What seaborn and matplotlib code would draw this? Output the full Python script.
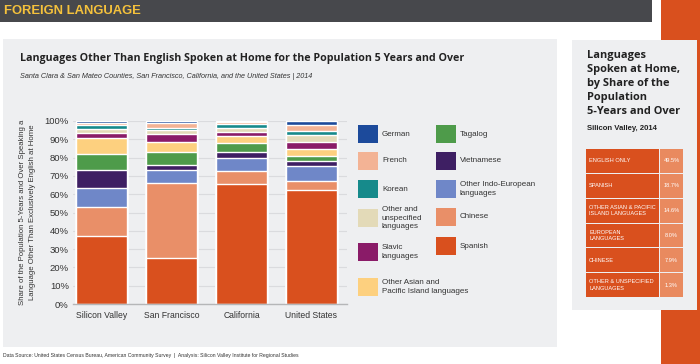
import numpy as np
import pandas as pd
import seaborn as sns
import matplotlib.pyplot as plt
from matplotlib.patches import Rectangle

# data (share of non-English speakers, %)
regions = ['Silicon Valley', 'San Francisco', 'California', 'United States']
languages = ['Spanish', 'Chinese', 'Other Indo-European languages', 'Vietnamese', 'Tagalog',
             'Other Asian and Pacific Island languages', 'Slavic languages',
             'Other and unspecified languages', 'Korean', 'French', 'German']
spanish = [37.2, 25.1, 65.6, 62.3]
chinese = [15.8, 41.2, 7.1, 5.1]
other_indo_european = [10.6, 6.7, 6.9, 8.2]
vietnamese = [9.6, 3.1, 3.6, 2.5]
tagalog = [8.9, 6.8, 4.8, 2.6]
other_asian = [8.4, 5.8, 4.0, 4.2]
slavic = [2.8, 4.0, 2.0, 3.4]
other_unspecified = [2.5, 2.2, 2.0, 3.9]
korean = [2.2, 1.5, 2.4, 2.5]
french = [0.9, 2.3, 0.9, 2.9]
german = [1.1, 1.3, 0.7, 2.4]
yticks = [0, 10, 20, 30, 40, 50, 60, 70, 80, 90, 100]

colors = ['#d9501e', '#e98f68', '#6f87c8', '#3e1f63', '#4e9b4a', '#fdd07f',
          '#8a1b68', '#e3dab8', '#168a8b', '#f3b395', '#1c4a9b']

# legend layout: (label, column, y centre in px)
legend_items = [
    ('German', 0, 134), ('French', 0, 161), ('Korean', 0, 189),
    ('Other and\nunspecified\nlanguages', 0, 218), ('Slavic\nlanguages', 0, 252),
    ('Other Asian and\nPacific Island languages', 0, 287),
    ('Tagalog', 1, 134), ('Vietnamese', 1, 161), ('Other Indo-European\nlanguages', 1, 189),
    ('Chinese', 1, 217), ('Spanish', 1, 246),
]
legend_colors = ['#1c4a9b', '#f3b395', '#168a8b', '#e3dab8', '#8a1b68', '#fdd07f',
                 '#4e9b4a', '#3e1f63', '#6f87c8', '#e98f68', '#d9501e']

table_labels = ['ENGLISH ONLY', 'SPANISH', 'OTHER ASIAN & PACIFIC\nISLAND LANGUAGES',
                'EUROPEAN\nLANGUAGES', 'CHINESE', 'OTHER & UNSPECIFIED\nLANGUAGES']
table_values = ['49.5%', '18.7%', '14.6%', '8.0%', '7.9%', '1.3%']

series = [spanish, chinese, other_indo_european, vietnamese, tagalog, other_asian,
          slavic, other_unspecified, korean, french, german]
df = pd.DataFrame(np.array(series).T, index=regions, columns=languages)
cum = df.cumsum(axis=1)

sns.set_style('white')
plt.rcParams['font.family'] = ['Liberation Sans', 'DejaVu Sans']
bold_sans = ['Open Sans', 'DejaVu Sans']

W, H = 700, 364
def fx(x):
    return x / W
def fy(y):
    return 1 - y / H

fig = plt.figure(figsize=(7, 3.64), dpi=100)
fig.patch.set_facecolor('white')

def box(x0, y0, x1, y1, color, z=-5):
    fig.add_artist(Rectangle((fx(x0), fy(y1)), (x1 - x0) / W, (y1 - y0) / H,
                             transform=fig.transFigure, color=color, zorder=z, lw=0))

box(0, 0, 652, 22, '#47484c')
box(661, 0, 700, 364, '#d9501e', -6)
box(3, 39, 557, 347, '#eeeff1')
box(572, 40, 697, 310, '#eeeff1')

fig.text(fx(4), fy(11.5), 'FOREIGN LANGUAGE', color='#f4c13c', fontsize=9.4,
         fontweight='bold', va='center', ha='left')

ax = fig.add_axes([fx(73), fy(304), (347 - 73) / W, (304 - 121) / H])
ax.set_facecolor('none')
for i in range(len(languages) - 1, -1, -1):
    sns.barplot(x=cum.index, y=cum[languages[i]], color=colors[i], saturation=1,
                width=0.73, ax=ax, zorder=2)
ax.set_xlim(-0.41, 3.51)
ax.set_ylim(0, 100)
ax.set_yticks(yticks)
ax.set_yticklabels([f'{t}%' for t in yticks])
ax.yaxis.grid(True, color='#dadbde', lw=0.8, zorder=0)
ax.set_axisbelow(True)
for s in ['top', 'right', 'left']:
    ax.spines[s].set_visible(False)
ax.spines['bottom'].set_color('#b5b6b8')
ax.spines['bottom'].set_linewidth(1.0)
ax.tick_params(axis='y', length=0, labelsize=6.8, colors='#333333', pad=3)
ax.tick_params(axis='x', length=0, labelsize=6.2, colors='#333333', pad=5)
ax.set_xlabel('')
ax.set_ylabel('Share of the Population 5-Years and Over Speaking a\n'
              'Language Other Than Exclusively English at Home',
              fontsize=5.6, color='#333333', labelpad=6, linespacing=1.6)

fig.text(fx(20), fy(58), 'Languages Other Than English Spoken at Home for the Population 5 Years and Over',
         family=bold_sans, fontweight='bold', fontsize=7.7, color='#222222', va='center')
fig.text(fx(20), fy(77), 'Santa Clara & San Mateo Counties, San Francisco, California, and the United States | 2014',
         fontsize=5.2, style='italic', color='#333333', va='center')

# legend
for (lab, col, yc), c in zip(legend_items, legend_colors):
    x0 = 358 if col == 0 else 436
    box(x0, yc - 9, x0 + 20, yc + 9, c, z=1)
    fig.text(fx(x0 + 24), fy(yc), lab, fontsize=5.8, color='#333333', va='center',
             ha='left', linespacing=1.25)

# right panel
fig.text(fx(587), fy(50), 'Languages\nSpoken at Home,\nby Share of the\nPopulation\n5-Years and Over',
         family=bold_sans, fontweight='bold', fontsize=7.9,
         color='#222222', va='top', ha='left', linespacing=1.36)
fig.text(fx(587), fy(128), 'Silicon Valley, 2014', fontsize=5.6, fontweight='bold',
         color='#222222', va='center')

top, bottom = 149, 298
rh = (bottom - top) / len(table_labels)
for i, (lab, val) in enumerate(zip(table_labels, table_values)):
    y0 = top + i * rh
    box(586, y0, 659, y0 + rh - 1, '#d9501e', z=1)
    box(660, y0, 683, y0 + rh - 1, '#e98a5f', z=1)
    fig.text(fx(589), fy(y0 + rh / 2 - 0.5), lab, fontsize=4.1, color='white',
             va='center', ha='left', linespacing=1.3)
    fig.text(fx(671.5), fy(y0 + rh / 2 - 0.5), val, fontsize=4.1, color='white',
             va='center', ha='center')

fig.text(fx(3), fy(356), 'Data Source: United States Census Bureau, American Community Survey  |  '
         'Analysis: Silicon Valley Institute for Regional Studies',
         fontsize=3.7, color='#333333', va='center')

fig.savefig('out.png', dpi=100)
